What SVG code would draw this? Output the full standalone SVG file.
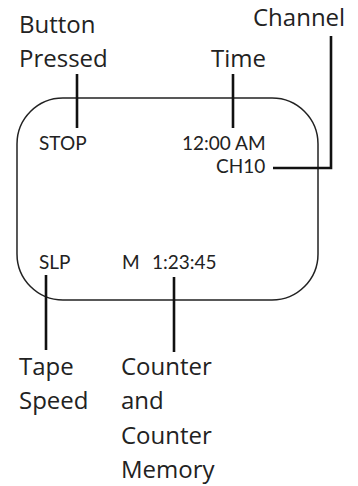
<svg xmlns="http://www.w3.org/2000/svg" width="358" height="486" viewBox="0 0 358 486">
<style>
.lbl{font-family:"Open Sans","Liberation Sans",sans-serif;font-size:24px;fill:#222}
.scr{font-family:Lato,"Open Sans","Liberation Sans",sans-serif;font-size:19px;fill:#222}
.ln{stroke:#111;stroke-width:2.6;fill:none}
</style>
<rect width="358" height="486" fill="#fff"/>
<g id="display">
<rect x="17" y="98" width="301" height="202" rx="46" ry="46" fill="none" stroke="#222" stroke-width="1.5"/>
<text class="scr" x="39" y="150">STOP</text>
<text class="scr" x="182" y="150">12:00 AM</text>
<text class="scr" x="216" y="173">CH10</text>
<text class="scr" x="39" y="269">SLP</text>
<text class="scr" x="122" y="269">M</text>
<text class="scr" x="152" y="269">1:23:45</text>
</g>
<g id="button-pressed"><text class="lbl" x="19" y="33">Button</text><text class="lbl" x="19" y="67">Pressed</text></g>
<g id="time"><text class="lbl" x="211" y="67">Time</text></g>
<g id="channel"><text class="lbl" x="253" y="26">Channel</text></g>
<g id="tape-speed"><text class="lbl" x="19" y="375">Tape</text><text class="lbl" x="19" y="409">Speed</text></g>
<g id="counter"><text class="lbl" x="121" y="375">Counter</text><text class="lbl" x="121" y="409">and</text><text class="lbl" x="121" y="444">Counter</text><text class="lbl" x="121" y="478">Memory</text></g>
<g id="connectors">
<line class="ln" x1="77" y1="74" x2="77" y2="128"/>
<line class="ln" x1="233" y1="74" x2="233" y2="128"/>
<polyline class="ln" points="331,36 331,168 273,168"/>
<line class="ln" x1="46" y1="275" x2="46" y2="350"/>
<line class="ln" x1="174" y1="277" x2="174" y2="352"/>
</g>
</svg>
